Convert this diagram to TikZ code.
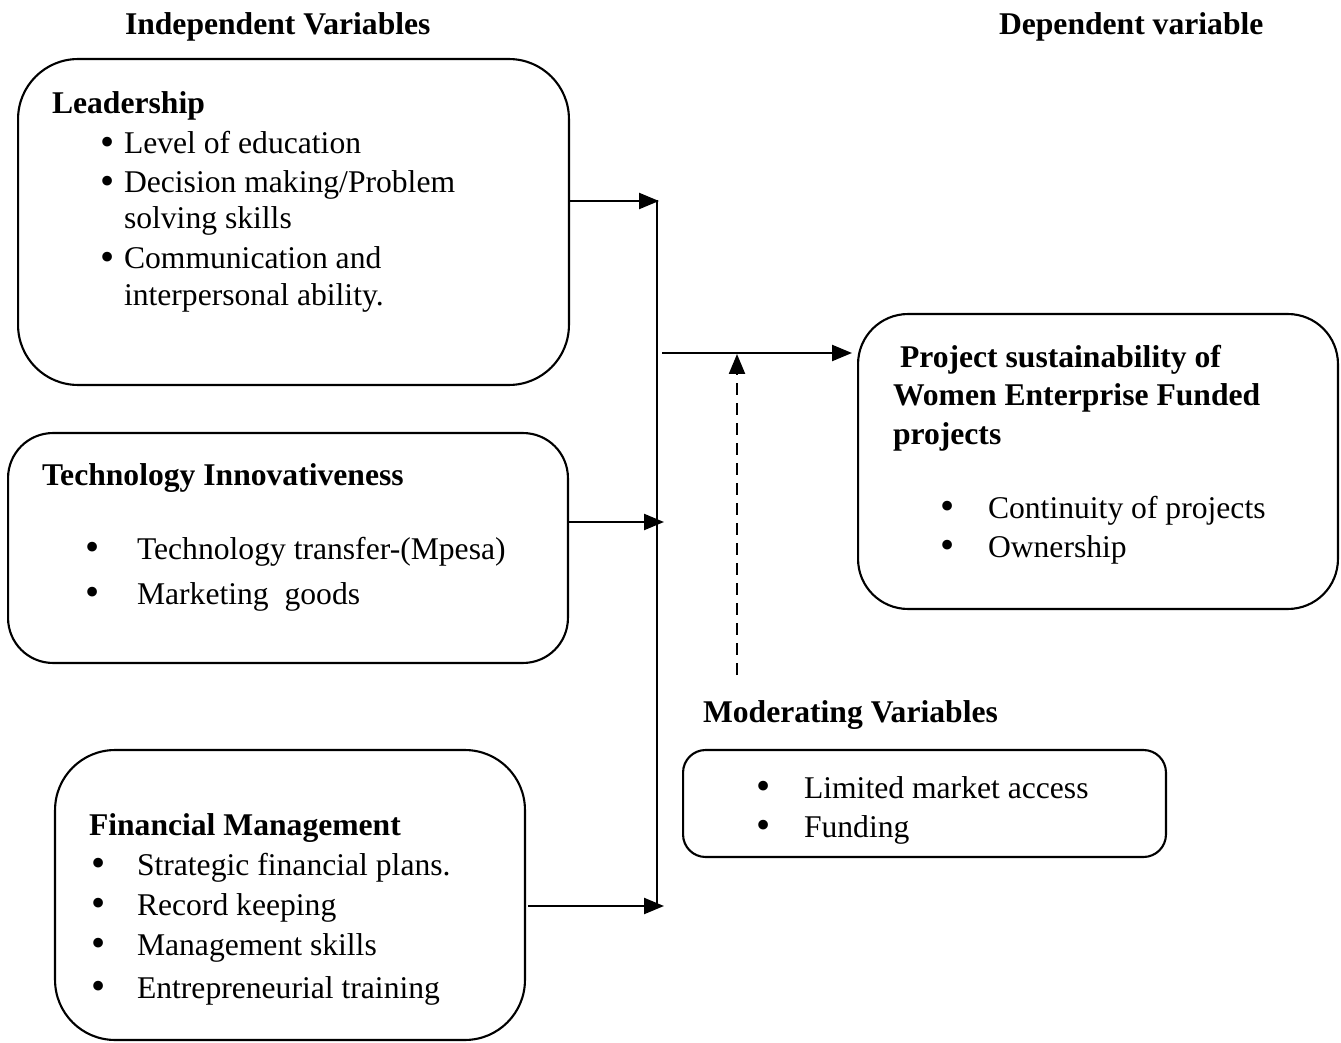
\documentclass[tikz,border=0pt]{standalone}
\usepackage{fontspec}
\setmainfont{Liberation Serif}
\usetikzlibrary{arrows.meta}
\begin{document}
\begin{tikzpicture}[x=0.02cm,y=-0.02cm,
  every node/.style={inner sep=0pt,outer sep=0pt,font=\fontsize{18}{22}\selectfont},
  txt/.style={anchor=base west},
  hd/.style={anchor=base west,font=\fontsize{18}{22}\selectfont\bfseries},
  bul/.style={anchor=base,yshift=-1pt,font=\fontsize{23}{24}\selectfont},
  box/.style={draw,line width=1.2pt},
  conn/.style={line width=1.3pt,-{Triangle[length=0.4cm,width=0.32cm]}},
  vline/.style={line width=0.8pt},
  moder/.style={line width=1.3pt,dash pattern=on 6.8pt off 4.6pt,-{Triangle[length=0.4cm,width=0.32cm]}}]
\useasboundingbox (0,0) rectangle (1341,1043);

% boxes
\node[box,rounded corners=1.2cm,minimum width=11.02cm,minimum height=6.52cm] (lead) at (293.5,222) {};
\node[box,rounded corners=0.9cm,minimum width=11.2cm,minimum height=4.6cm] (tech) at (288,548) {};
\node[box,rounded corners=1.2cm,minimum width=9.4cm,minimum height=5.8cm] (fin) at (290,895) {};
\node[box,rounded corners=1.0cm,minimum width=9.6cm,minimum height=5.9cm] (proj) at (1098,461.5) {};
\node[box,rounded corners=0.45cm,minimum width=9.66cm,minimum height=2.14cm] (mod) at (924.5,803.5) {};

% headings
\node[hd] (h1) at (125,35) {Independent Variables};
\node[hd] (h2) at (999,35) {Dependent variable};

% leadership
\node[hd] (l0) at (52,114) {Leadership};
\node[bul] (lb1) at (108,154) {•};
\node[txt] (l1) at (124,154) {Level of education};
\node[bul] (lb2) at (108,193) {•};
\node[txt] (l2) at (124,193) {Decision making/Problem};
\node[txt] (l3) at (124,229) {solving skills};
\node[bul] (lb3) at (108,269) {•};
\node[txt] (l4) at (124,269) {Communication and};
\node[txt] (l5) at (124,306) {interpersonal ability.};

% technology
\node[hd] (t0) at (42,485) {Technology Innovativeness};
\node[bul] (tb1) at (93,559) {•};
\node[txt] (t1) at (137,559) {Technology transfer-(Mpesa)};
\node[bul] (tb2) at (93,604) {•};
\node[txt] (t2) at (137,604) {Marketing\ \ goods};

% financial
\node[hd] (f0) at (89,835) {Financial Management};
\node[bul] (fb1) at (99,875) {•};
\node[txt] (f1) at (137,875) {Strategic financial plans.};
\node[bul] (fb2) at (99,915) {•};
\node[txt] (f2) at (137,915) {Record keeping};
\node[bul] (fb3) at (99,955) {•};
\node[txt] (f3) at (137,955) {Management skills};
\node[bul] (fb4) at (99,998) {•};
\node[txt] (f4) at (137,998) {Entrepreneurial training};

% project
\node[hd] (p0) at (900,368) {Project sustainability of};
\node[hd] (p1) at (893,406) {Women Enterprise Funded};
\node[hd] (p2) at (893,444) {projects};
\node[bul] (pb1) at (948,518) {•};
\node[txt] (p3) at (988,518) {Continuity of projects};
\node[bul] (pb2) at (948,557) {•};
\node[txt] (p4) at (988,557) {Ownership};

% moderating
\node[hd] (m0) at (703,722) {Moderating Variables};
\node[bul] (mb1) at (764,798) {•};
\node[txt] (m1) at (804,798) {Limited market access};
\node[bul] (mb2) at (764,837) {•};
\node[txt] (m2) at (804,837) {Funding};

% connectors
\coordinate (vtop) at (657,200);
\coordinate (vbot) at (657,906);
\coordinate (a1) at (659,201);
\coordinate (a2) at (664,522);
\coordinate (a3) at (664,906);
\coordinate (ms) at (662,353);
\coordinate (me) at (852,353);
\coordinate (ds) at (737,675);
\coordinate (de) at (737,354);
\draw[vline] (vtop) -- (vbot);
\draw[conn] (lead.east |- a1) -- (a1);
\draw[conn] (tech.east |- a2) -- (a2);
\draw[conn] (528,906) -- (a3);
\draw[conn] (ms) -- (me);
\draw[moder] (ds) -- (de);
\end{tikzpicture}
\end{document}
